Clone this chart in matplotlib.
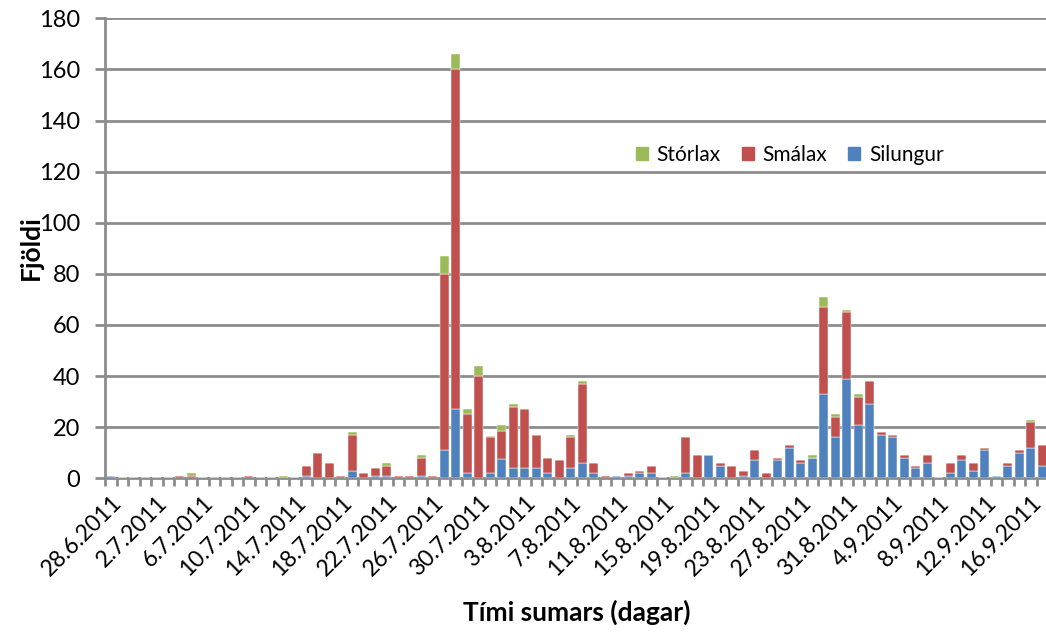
''' stacked daily fish counts, summer 2011
'''
import datetime as dt
import numpy as np
import matplotlib
matplotlib.use('Agg')
import matplotlib.pyplot as plt
from matplotlib.patches import Patch

plt.rcParams['font.family'] = ['Lato', 'DejaVu Sans']

start_date = dt.date(2011, 6, 28)
n_days = 82

# daily counts, one value per day from 28.6.2011
silungur = [
    1, 0, 0, 0, 0, 0, 0, 0, 0, 0,
    0, 0, 0, 0, 0, 0, 0, 1, 0, 0,
    0, 3, 0, 1, 1, 0, 0, 1, 0, 11,
    27, 2, 0, 2, 7.5, 4, 4, 4, 2, 0,
    4, 6, 2, 0, 1, 1, 2, 2, 0, 0,
    2, 0, 9, 5, 0, 1, 7, 0, 7, 12,
    6, 8, 33, 16, 39, 21, 29, 17, 16, 8,
    4, 6, 0, 2, 7, 3, 11, 1, 5, 10,
    12, 5,
]
smalax = [
    0, 0, 0, 0, 0, 0, 1, 1, 0, 0,
    0, 0, 1, 0, 0, 0, 0, 4, 10, 6,
    1, 14, 2, 3, 4, 1, 1, 7, 1, 69,
    133, 23, 40, 14, 11, 24, 23, 13, 6, 7,
    12, 31, 4, 1, 0, 1, 1, 3, 0, 0,
    14, 9, 0, 1, 5, 2, 4, 2, 1, 1,
    1, 0, 34, 8, 26, 11, 9, 1, 1, 1,
    1, 3, 0, 4, 2, 3, 1, 0, 1, 1,
    10, 8,
]
storlax = [
    0, 0, 0, 0, 0, 0, 0, 1, 0, 0,
    0, 0, 0, 0, 0, 1, 0, 0, 0, 0,
    0, 1, 0, 0, 1, 0, 0, 1, 0, 7,
    6, 2, 4, 0.5, 2.5, 1, 0, 0, 0, 0,
    1, 1, 0, 0, 0, 0, 0, 0, 0, 1,
    0, 0, 0, 0, 0, 0, 0, 0, 0, 0,
    0, 1, 4, 1, 1, 1, 0, 0, 0, 0,
    0, 0, 0, 0, 0, 0, 0, 0, 0, 0,
    1, 0,
]

c_silungur = '#4F81BD'
c_smalax = '#C0504D'
c_storlax = '#9BBB59'
grid_color = '#8C8C8C'

dates = [start_date + dt.timedelta(days=i) for i in range(n_days)]
tick_labels = [f'{d.day}.{d.month}.{d.year}' for d in dates]

x = np.arange(n_days)
s1 = np.array(silungur, dtype=float)
s2 = np.array(smalax, dtype=float)
s3 = np.array(storlax, dtype=float)

fig = plt.figure(figsize=(10.46, 6.33), dpi=100)
ax = fig.add_axes([105 / 1046, 1 - 478.3 / 633, 943 / 1046, 460 / 633])

bar_kw = dict(width=0.8, edgecolor='white', linewidth=0.35, zorder=3)
ax.bar(x, s1, color=c_silungur, **bar_kw)
ax.bar(x, s2, bottom=s1, color=c_smalax, **bar_kw)
ax.bar(x, s3, bottom=s1 + s2, color=c_storlax, **bar_kw)

ax.set_xlim(-0.5, n_days - 0.5)
ax.set_ylim(0, 180)
ax.set_yticks(np.arange(0, 181, 20))
ax.yaxis.grid(True, color=grid_color, linewidth=2.0, zorder=0)
ax.set_axisbelow(True)

for side in ['top', 'right']:
    ax.spines[side].set_visible(False)
for side in ['left', 'bottom']:
    ax.spines[side].set_color(grid_color)
    ax.spines[side].set_linewidth(2.0)
ax.spines['left'].set_zorder(4)
ax.spines['bottom'].set_zorder(2.5)

# labels every 4th day, tick marks between the days
ax.set_xticks(x[::4])
ax.set_xticklabels(tick_labels[::4], rotation=45, ha='right',
                   rotation_mode='anchor', fontsize=16.5)
ax.set_xticks(np.arange(n_days + 1) - 0.5, minor=True)
ax.tick_params(axis='x', which='major', length=0, pad=10)
ax.tick_params(axis='x', which='minor', length=6, width=2.0, color=grid_color)
ax.tick_params(axis='y', length=7, width=2.0, color=grid_color,
               labelsize=17, pad=11)

fig.text(31 / 1046, 1 - 248 / 633, 'Fjöldi', rotation=90, ha='center',
         va='center', fontsize=19, fontweight='bold')
ax.set_xlabel('Tími sumars (dagar)', fontsize=19, fontweight='bold',
              labelpad=14)

handles = [
    Patch(color=c_storlax, label='Stórlax'),
    Patch(color=c_smalax, label='Smálax'),
    Patch(color=c_silungur, label='Silungur'),
]
ax.legend(handles=handles, ncol=3, frameon=False, loc='center',
          bbox_to_anchor=(0.726, 0.703), fontsize=15,
          handlelength=0.6, handleheight=0.6, handletextpad=0.4,
          columnspacing=1.0)

fig.savefig('out.png', dpi=100)
